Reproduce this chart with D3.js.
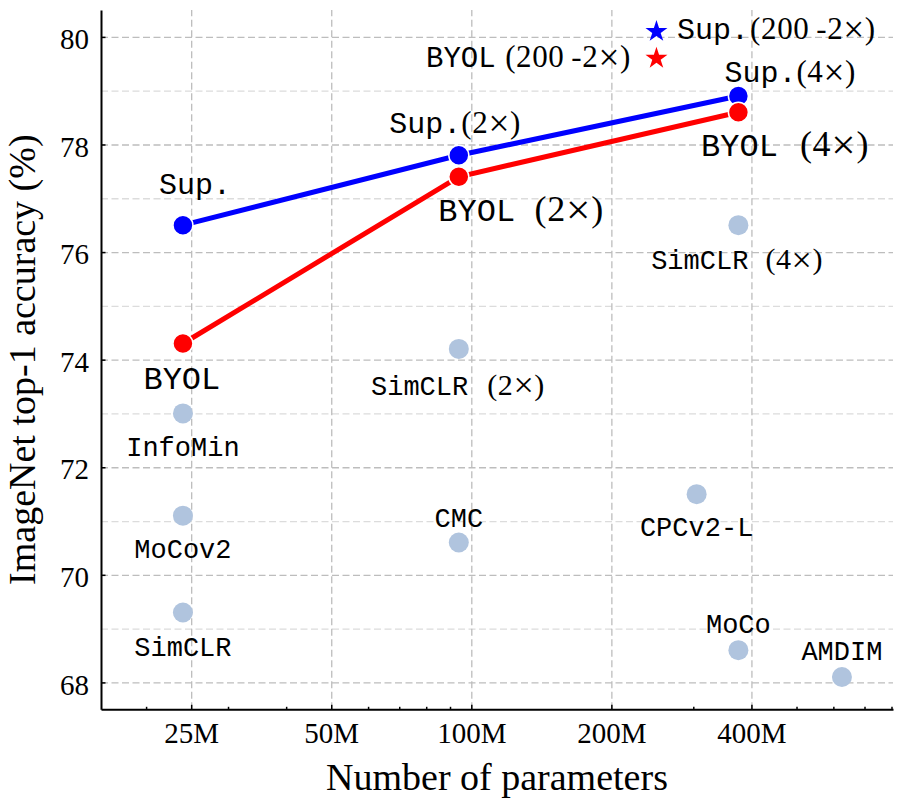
<!DOCTYPE html>
<html>
<head>
<meta charset="utf-8">
<script src="https://cdn.jsdelivr.net/npm/d3@7"></script>
<style>
  body { margin: 0; background: #fff; }
  .mono { font-family: "Liberation Mono", monospace; }
  .serif { font-family: "Liberation Serif", serif; }
</style>
</head>
<body>
<div id="chart"></div>
<script>
// parameters in millions, accuracy in %
const supNames = ['Sup.', 'Sup.(2×)', 'Sup.(4×)'];
const supParams = [24, 94, 375];
const supAcc = [76.5, 77.8, 78.9];

const byolNames = ['BYOL', 'BYOL (2×)', 'BYOL (4×)'];
const byolParams = [24, 94, 375];
const byolAcc = [74.3, 77.4, 78.6];

const otherNames = ['InfoMin', 'MoCov2', 'SimCLR', 'SimCLR (2×)', 'SimCLR (4×)', 'CMC', 'CPCv2-L', 'MoCo', 'AMDIM'];
const otherParams = [24, 24, 24, 94, 375, 94, 305, 375, 626];
const otherAcc = [73.0, 71.1, 69.3, 74.2, 76.5, 70.6, 71.5, 68.6, 68.1];

const starNames = ['Sup.(200-2×)', 'BYOL (200-2×)'];
const starParams = [250, 250];
const starAcc = [80.1, 79.6];

const xMajorTicks = [25, 50, 100, 200, 400];
const xMinorTicks = [20, 30, 40, 60, 70, 80, 90, 300, 500, 600, 700, 800];
const yMajorTicks = [68, 70, 72, 74, 76, 78, 80];
const yMinorTicks = [69, 71, 73, 75, 77, 79];

// where each label sits relative to its marker
const labelLayout = {
  'Sup.':          { dx: -24,   dy: -31,  size: 30 },
  'Sup.(2×)':      { dx: -69.5, dy: -22,  size: 30, serif: 31, gap: 0 },
  'Sup.(4×)':      { dx: -14,   dy: -14,  size: 30, serif: 31, gap: 0 },
  'BYOL':          { dx: -39.5, dy: 45.7, size: 32 },
  'BYOL (2×)':     { dx: -20.5, dy: 44.4, size: 32, serif: 36, gap: 19.5 },
  'BYOL (4×)':     { dx: -37.3, dy: 44,   size: 32, serif: 36, gap: 22 },
  'InfoMin':       { dx: 0, dy: 42.7, size: 27, anchor: 'middle' },
  'MoCov2':        { dx: 0, dy: 42.3, size: 27, anchor: 'middle' },
  'SimCLR':        { dx: 0, dy: 43.3, size: 27, anchor: 'middle' },
  'SimCLR (2×)':   { dx: -87.8, dy: 45.7, size: 27, serif: 30, gap: 19 },
  'SimCLR (4×)':   { dx: -87.2, dy: 44,   size: 27, serif: 30, gap: 17 },
  'CMC':           { dx: 0, dy: -16,  size: 27, anchor: 'middle' },
  'CPCv2-L':       { dx: 0, dy: 42.3, size: 27, anchor: 'middle' },
  'MoCo':          { dx: 0, dy: -17.4, size: 27, anchor: 'middle' },
  'AMDIM':         { dx: 0, dy: -17.3, size: 27, anchor: 'middle' },
  'Sup.(200-2×)':  { dx: 20.6, dy: 7.7, size: 30, serif: 31, gap: 1 },
  'BYOL (200-2×)': { dx: -230.4, dy: 8.3, size: 29, serif: 31, gap: 9.5 }
};

const width = 900, height = 801;
const margin = { left: 101, top: 10, right: 7, bottom: 91.7 };
const plotW = width - margin.left - margin.right;
const plotH = height - margin.top - margin.bottom;

const x = d3.scaleLog().base(2)
  .domain([16, 806])
  .range([margin.left, width - margin.right]);

const y = d3.scaleLinear()
  .domain([67.5, 80.5])
  .range([height - margin.bottom, margin.top]);

const svg = d3.select('#chart')
  .append('svg')
  .attr('width', width)
  .attr('height', height);

function grid(g, axis, color) {
  g.call(axis);
  g.select('.domain').remove();
  g.selectAll('text').remove();
  g.selectAll('line')
    .attr('stroke', color)
    .attr('stroke-width', 1.3)
    .attr('stroke-dasharray', '7,3.5');
}

// grid lines
svg.append('g')
  .attr('transform', 'translate(' + margin.left + ',0)')
  .call(grid, d3.axisLeft(y).tickValues(yMinorTicks).tickSize(-plotW), '#dcdcdc');
svg.append('g')
  .attr('transform', 'translate(' + margin.left + ',0)')
  .call(grid, d3.axisLeft(y).tickValues(yMajorTicks).tickSize(-plotW), '#bdbdbd');
svg.append('g')
  .attr('transform', 'translate(0,' + (height - margin.bottom) + ')')
  .call(grid, d3.axisBottom(x).tickValues(xMajorTicks).tickSize(-plotH), '#bdbdbd');

// axes
const xAxis = svg.append('g')
  .attr('transform', 'translate(0,' + (height - margin.bottom) + ')')
  .call(d3.axisBottom(x).tickValues(xMajorTicks).tickFormat(d => d + 'M').tickSizeInner(-4.5).tickSizeOuter(0));
xAxis.selectAll('text')
  .attr('class', 'serif')
  .attr('font-size', 29)
  .attr('fill', '#000')
  .attr('y', 34)
  .attr('dy', 0);

const xMinor = svg.append('g')
  .attr('transform', 'translate(0,' + (height - margin.bottom) + ')')
  .call(d3.axisBottom(x).tickValues(xMinorTicks).tickFormat('').tickSizeInner(-2.5).tickSizeOuter(0));
xMinor.select('.domain').remove();

const yAxis = svg.append('g')
  .attr('transform', 'translate(' + margin.left + ',0)')
  .call(d3.axisLeft(y).tickValues(yMajorTicks).tickSizeInner(-4.5).tickSizeOuter(0));
yAxis.selectAll('text')
  .attr('class', 'serif')
  .attr('font-size', 29)
  .attr('fill', '#000')
  .attr('x', -12)
  .attr('dy', '0.4em');

svg.selectAll('.domain').attr('stroke', '#000').attr('stroke-width', 2);
svg.selectAll('.tick line').filter(function () { return !this.getAttribute('stroke-dasharray'); })
  .attr('stroke', '#000').attr('stroke-width', 1.5);

// axis titles
svg.append('text')
  .attr('class', 'serif')
  .attr('x', margin.left + plotW / 2)
  .attr('y', 790)
  .attr('text-anchor', 'middle')
  .attr('font-size', 38)
  .text('Number of parameters');

svg.append('text')
  .attr('class', 'serif')
  .attr('transform', 'translate(35,' + (margin.top + plotH / 2) + ') rotate(-90)')
  .attr('text-anchor', 'middle')
  .attr('font-size', 38)
  .text('ImageNet top-1 accuracy (%)');

// lines
const line = d3.line().x(d => x(d[0])).y(d => y(d[1]));
const supData = d3.zip(supParams, supAcc);
const byolData = d3.zip(byolParams, byolAcc);

svg.append('path').datum(supData)
  .attr('d', line).attr('fill', 'none').attr('stroke', '#0000ff').attr('stroke-width', 5);
svg.append('path').datum(byolData)
  .attr('d', line).attr('fill', 'none').attr('stroke', '#ff0000').attr('stroke-width', 5);

// other methods
svg.append('g').selectAll('circle')
  .data(d3.zip(otherParams, otherAcc))
  .join('circle')
  .attr('cx', d => x(d[0]))
  .attr('cy', d => y(d[1]))
  .attr('r', 10)
  .attr('fill', '#b0c4de');

svg.append('g').selectAll('circle')
  .data(supData)
  .join('circle')
  .attr('cx', d => x(d[0]))
  .attr('cy', d => y(d[1]))
  .attr('r', 10)
  .attr('fill', '#0000ff')
  .attr('stroke', '#fff')
  .attr('stroke-width', 1.5);

svg.append('g').selectAll('circle')
  .data(byolData)
  .join('circle')
  .attr('cx', d => x(d[0]))
  .attr('cy', d => y(d[1]))
  .attr('r', 10)
  .attr('fill', '#ff0000')
  .attr('stroke', '#fff')
  .attr('stroke-width', 1.5);

// stars
const starColors = ['#0000ff', '#ff0000'];
svg.append('g').selectAll('path')
  .data(d3.zip(starParams, starAcc))
  .join('path')
  .attr('transform', d => 'translate(' + x(d[0]) + ',' + y(d[1]) + ')')
  .attr('d', d3.symbol(d3.symbolStar, 150))
  .attr('fill', (d, i) => starColors[i]);

// labels: typewriter name + roman "(k×)" part
function drawLabel(name, px, py) {
  const L = labelLayout[name];
  const cut = name.indexOf('(');
  const mono = cut < 0 ? name : name.slice(0, cut).trim();
  const paren = cut < 0 ? null : name.slice(cut).replace('-', '\u2009-');
  const t = svg.append('text')
    .attr('x', px + L.dx)
    .attr('y', py + L.dy)
    .attr('text-anchor', L.anchor || 'start')
    .attr('fill', '#000');
  t.append('tspan').attr('class', 'mono').attr('font-size', L.size).text(mono);
  if (paren) {
    const parts = paren.split('×');
    const ls = (L.serif * 0.02).toFixed(2);
    const drop = (L.serif * 0.09).toFixed(2);
    t.append('tspan').attr('class', 'serif').attr('font-size', L.serif)
      .attr('dx', L.gap).attr('letter-spacing', ls).text(parts[0]);
    t.append('tspan').attr('class', 'serif').attr('font-size', L.serif * 1.2)
      .attr('dy', drop).attr('letter-spacing', ls).text('×');
    t.append('tspan').attr('class', 'serif').attr('font-size', L.serif)
      .attr('dy', -drop).attr('letter-spacing', ls).text(parts[1]);
  }
}

supNames.forEach((n, i) => drawLabel(n, x(supParams[i]), y(supAcc[i])));
byolNames.forEach((n, i) => drawLabel(n, x(byolParams[i]), y(byolAcc[i])));
otherNames.forEach((n, i) => drawLabel(n, x(otherParams[i]), y(otherAcc[i])));
starNames.forEach((n, i) => drawLabel(n, x(starParams[i]), y(starAcc[i])));
</script>
</body>
</html>
